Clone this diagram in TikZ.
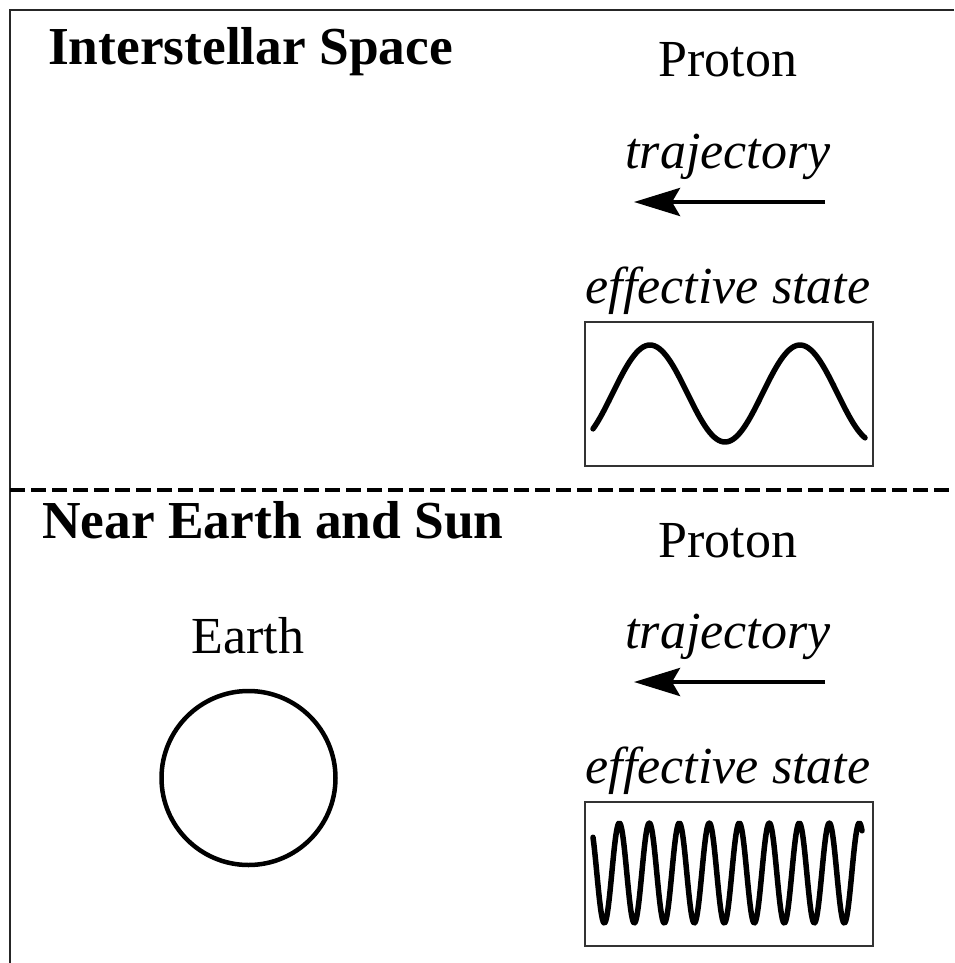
\documentclass[tikz,border=0pt]{standalone}
\usepackage{fontspec}
\setmainfont{Liberation Serif}
\usetikzlibrary{arrows.meta}
\begin{document}
\begin{tikzpicture}[x=1pt, y=-1pt,
        txt/.style={inner sep=0pt, anchor=base, font=\fontsize{52}{60}\selectfont},
        heading/.style={txt, anchor=base west, font=\fontsize{53.4}{60}\selectfont\bfseries},
        note/.style={txt, font=\fontsize{52}{60}\selectfont\itshape},
        motion/.style={line width=4.5pt, -{Stealth[length=46pt, width=28pt, inset=8pt]}},
        wave/.style={line width=5.5pt, line cap=round, line join=round},
        statebox/.style={draw=black!80, line width=1.3pt, inner sep=0pt, minimum width=288pt, minimum height=144pt}]
        \useasboundingbox (0,0) rectangle (954,963);

        % frame and divider
        \draw[line width=1.5pt, black!85] (10,963) -- (10,10) -- (954,10);
        \draw[line width=4pt, dash pattern=on 15pt off 6pt] (10,489.5) -- (954,489.5);

        % interstellar space
        \node[heading] (space) at (48,65) {Interstellar Space};
        \node[txt] (protonA) at (728,77) {Proton};
        \node[note] (trajA) at (728,168) {trajectory};
        \coordinate (trajA-from) at (825,202);
        \coordinate (trajA-to) at (634,202);
        \draw[motion] (trajA-from) -- (trajA-to);
        \node[note] (stateA) at (728,303) {effective state};
        \node[statebox] (boxA) at (729,394) {};
        \draw[wave] plot[domain=593:865, samples=120] (\x, {393.5-48.5*cos(2.4*(\x-650))});

        % near earth and sun
        \node[heading] (near) at (42,538) {Near Earth and Sun};
        \node[txt] (earthlabel) at (248,653) {Earth};
        \node[draw, circle, line width=4.5pt, inner sep=0pt, minimum size=174pt] (earth) at (248.5,778) {};
        \node[txt] (protonB) at (728,557) {Proton};
        \node[note] (trajB) at (728,648) {trajectory};
        \coordinate (trajB-from) at (825,682);
        \coordinate (trajB-to) at (634,682);
        \draw[motion] (trajB-from) -- (trajB-to);
        \node[note] (stateB) at (728,783) {effective state};
        \node[statebox] (boxB) at (729,874) {};
        \draw[wave] plot[domain=593:862, samples=400] (\x, {873-50*cos(12*(\x-619.3))});
    \end{tikzpicture}
\end{document}
